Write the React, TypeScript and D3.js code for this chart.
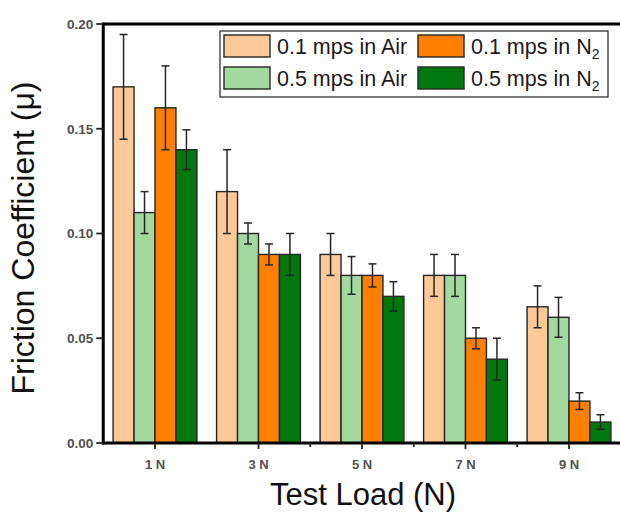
import React from "react";
import * as d3 from "d3";

const categories = ["1 N", "3 N", "5 N", "7 N", "9 N"];
const loads = [1, 3, 5, 7, 9];
const minorTicks = [4, 6, 8];
const yTicks = [0, 0.05, 0.1, 0.15, 0.2];

const seriesNames = ["0.1 mps in Air", "0.5 mps in Air", "0.1 mps in N", "0.5 mps in N"];
const seriesSub = ["", "", "2", "2"];
const seriesColors = ["#FDC998", "#A3D9A0", "#FF8000", "#00780E"];

const air01 = [0.17, 0.12, 0.09, 0.08, 0.065];
const air05 = [0.11, 0.1, 0.08, 0.08, 0.06];
const n201 = [0.16, 0.09, 0.08, 0.05, 0.02];
const n205 = [0.14, 0.09, 0.07, 0.04, 0.01];

const air01Err = [0.025, 0.02, 0.01, 0.01, 0.01];
const air05Err = [0.01, 0.005, 0.009, 0.01, 0.0095];
const n201Err = [0.02, 0.005, 0.0055, 0.005, 0.004];
const n205Err = [0.0095, 0.01, 0.007, 0.01, 0.0035];

const seriesValues = [air01, air05, n201, n205];
const seriesErrors = [air01Err, air05Err, n201Err, n205Err];

const W = 620;
const H = 515;
const left = 103.25;
const top = 24;
const bottom = 443;

export default function App() {
  const x = d3.scaleLinear().domain([0, 10]).range([left, left + 517.5]);
  const y = d3.scaleLinear().domain([0, 0.2]).range([bottom, top]);
  const barW = 0.405;
  const font = "'Liberation Sans', Arial, sans-serif";

  const bars: React.ReactNode[] = [];
  const errs: React.ReactNode[] = [];
  loads.forEach((ld, gi) => {
    seriesValues.forEach((vals, si) => {
      const x0 = x(ld + (si - 2) * barW);
      const x1 = x(ld + (si - 1) * barW);
      const v = vals[gi];
      const e = seriesErrors[si][gi];
      bars.push(
        <rect
          key={`b${gi}-${si}`}
          x={x0}
          y={y(v)}
          width={x1 - x0}
          height={y(0) - y(v)}
          fill={seriesColors[si]}
          stroke="#262626"
          strokeWidth={1.4}
        />
      );
      const cx = (x0 + x1) / 2;
      errs.push(
        <g key={`e${gi}-${si}`} stroke="#262626" strokeWidth={1.5}>
          <line x1={cx} x2={cx} y1={y(v + e)} y2={y(v - e)} />
          <line x1={cx - 4} x2={cx + 4} y1={y(v + e)} y2={y(v + e)} />
          <line x1={cx - 4} x2={cx + 4} y1={y(v - e)} y2={y(v - e)} />
        </g>
      );
    });
  });

  const legendX = 220;
  const legendY = 31;
  const colX = [224, 418];
  const rowY = [35, 67];
  const legendOrder = [
    [0, 0, 0],
    [1, 0, 1],
    [2, 1, 0],
    [3, 1, 1],
  ];

  return (
    <svg
      width={W}
      height={H}
      style={{ position: "absolute", left: 0, top: 0, background: "#fff" }}
      fontFamily={font}
    >
      <rect x={0} y={0} width={W} height={H} fill="#fff" />
      {bars}
      {errs}
      {/* frame */}
      <line x1={left} x2={W} y1={top} y2={top} stroke="#000" strokeWidth={3} />
      <line x1={left} x2={left} y1={top - 1.5} y2={bottom + 1.5} stroke="#000" strokeWidth={3} />
      <line x1={left - 1.5} x2={W} y1={bottom} y2={bottom} stroke="#000" strokeWidth={3} />
      {/* y ticks */}
      {yTicks.map((t) => (
        <g key={`yt${t}`}>
          <line x1={left - 7} x2={left} y1={y(t)} y2={y(t)} stroke="#222" strokeWidth={1.8} />
          <text
            x={left - 10}
            y={y(t)}
            dy="0.36em"
            textAnchor="end"
            fontSize={13.5}
            fontWeight="bold"
            fill="#505050"
          >
            {d3.format(".2f")(t)}
          </text>
        </g>
      ))}
      {/* x ticks */}
      {loads.map((ld, i) => (
        <g key={`xt${ld}`}>
          <line x1={x(ld)} x2={x(ld)} y1={bottom} y2={bottom + 6} stroke="#222" strokeWidth={1.8} />
          <text x={x(ld)} y={469} textAnchor="middle" fontSize={13} fontWeight="bold" fill="#505050">
            {categories[i]}
          </text>
        </g>
      ))}
      {minorTicks.map((m) => (
        <line key={`mt${m}`} x1={x(m)} x2={x(m)} y1={bottom} y2={bottom + 4} stroke="#222" strokeWidth={1.8} />
      ))}
      {/* axis titles */}
      <text
        transform={`translate(34,238) rotate(-90)`}
        textAnchor="middle"
        fontSize={32}
        fill="#111"
      >
        Friction Coefficient (μ)
      </text>
      <text x={363} y={505} textAnchor="middle" fontSize={31} fill="#111">
        Test Load (N)
      </text>
      {/* legend */}
      <rect x={legendX} y={legendY} width={388} height={66} fill="#fff" stroke="#333" strokeWidth={1.3} />
      {legendOrder.map(([si, c, r]) => (
        <g key={`lg${si}`}>
          <rect
            x={colX[c]}
            y={rowY[r]}
            width={46}
            height={22}
            fill={seriesColors[si]}
            stroke="#262626"
            strokeWidth={1.4}
          />
          <text x={colX[c] + 53} y={rowY[r] + 18.5} fontSize={21.5} fill="#1a1a1a">
            {seriesNames[si]}
            {seriesSub[si] && (
              <tspan fontSize={14} dy={5}>
                {seriesSub[si]}
              </tspan>
            )}
          </text>
        </g>
      ))}
    </svg>
  );
}
